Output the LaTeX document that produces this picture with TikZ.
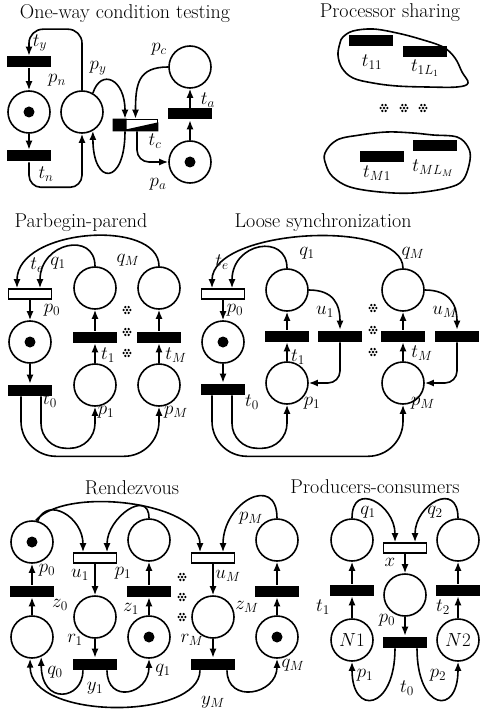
\RequirePackage{fix-cm}
\documentclass[tikz,border=0pt]{standalone}
\usepackage{amsmath}
\usetikzlibrary{arrows.meta}

\begin{document}
\begin{tikzpicture}[x=1pt, y=1pt, line width=1.6pt,
    font=\fontsize{19}{21}\selectfont,
    place/.style={circle, draw, minimum size=42pt, inner sep=0pt},
    marked/.style={path picture={\fill (path picture bounding box.center) circle (5.5pt);}},
    trans/.style={rectangle, fill=black, minimum width=44pt, minimum height=11pt, inner sep=0pt},
    etrans/.style={rectangle, draw, fill=white, minimum width=43pt, minimum height=10pt, inner sep=0pt},
    flow/.style={-{Latex[length=9pt,width=7pt]}},
    title/.style={font=\fontsize{20}{22}\selectfont},
    sepdot/.pic={\fill (0,0) circle (1.3pt);
      \foreach \a in {0,60,...,300} \fill (\a:3.4pt) circle (1.3pt);}]
  \useasboundingbox (0,0) rectangle (479,-711);

  % one-way condition testing
  \node[title] (h1) at (125,-14) {One-way condition testing};
  \node[trans] (ty) at (29,-62) {};
  \node[place, marked] (pn) at (29,-112) {};
  \node[trans] (tn) at (29,-156) {};
  \node[place] (py) at (82,-112) {};
  \node[place] (pc) at (190,-67) {};
  \node[trans] (ta) at (190,-114) {};
  \node[place, marked] (pa) at (190,-162) {};
  \node[rectangle, draw, minimum width=44pt, minimum height=11pt, inner sep=0pt] (tc) at (135.5,-125) {};
  \fill (tc.north west) -- ([xshift=14pt]tc.north west) -- ([xshift=14pt,yshift=2pt]tc.south west)
    -- ([yshift=9pt]tc.south east) -- (tc.south east) -- (tc.south west) -- cycle;
  \draw[flow, rounded corners=14pt] (py.north) -- ++(0,61) -| (ty.north);
  \draw[flow] (ty) -- (pn);
  \draw[flow] (pn) -- (tn);
  \draw[flow, rounded corners=12pt] (tn.south) -- ++(0,-25) -| (py.south);
  \draw[flow] (py.60) .. controls +(8,25) and +(0,40) .. ([xshift=-10.5pt]tc.north);
  \draw[flow] (pc.west) .. controls +(-30,0) and +(0,35) .. (tc.north);
  \draw[flow] ([xshift=-10.5pt]tc.south) .. controls +(0,-55) and +(0,-55) .. (py.-60);
  \draw[flow, rounded corners=12pt] ([xshift=1.5pt]tc.south) |- (pa.west);
  \draw[flow] (pa) -- (ta);
  \draw[flow] (ta) -- (pc);
  \node (lty) at (40,-43) {$t_y$};
  \node (lpn) at (57,-80) {$p_n$};
  \node (lpy) at (98,-68) {$p_y$};
  \node (lpc) at (159,-49) {$p_c$};
  \node (lta) at (208,-100) {$t_a$};
  \node (ltc) at (155,-141) {$t_c$};
  \node (ltn) at (46,-174) {$t_n$};
  \node (lpa) at (158,-184) {$p_a$};

  % processor sharing
  \node[title] (h2) at (390,-13) {Processor sharing};
  \draw plot[smooth cycle, tension=0.6] coordinates {(343,-37) (353,-31) (373,-29) (397,-33)
    (420,-39) (443,-47) (455,-58) (462,-72) (468,-83) (457,-87) (427,-87) (397,-86)
    (373,-83) (353,-78) (342,-68) (338,-55) (340,-43)};
  \draw plot[smooth cycle, tension=0.6] coordinates {(325,-153) (337,-140) (360,-135) (387,-132)
    (413,-133) (433,-135) (457,-137) (468,-147) (470,-160) (463,-180) (447,-188) (413,-193)
    (380,-192) (350,-187) (333,-177) (326,-165)};
  \node[trans] (t11) at (371,-41) {};
  \node[trans] (t1L1) at (425,-52) {};
  \node[trans] (tM1) at (382,-157) {};
  \node[trans] (tMLM) at (435,-146) {};
  \node (lt11) at (372,-62) {$t_{11}$};
  \node (lt1L1) at (425,-68) {$t_{1L_1}$};
  \node (ltM1) at (377,-173) {$t_{M1}$};
  \node (ltMLM) at (433,-168) {$t_{ML_M}$};
  \foreach \x in {384,404,423} \pic at (\x,-108) {sepdot};

  % parbegin-parend
  \node[title] (h3) at (81,-223) {Parbegin-parend};
  \node[etrans] (bte) at (30,-294) {};
  \node[place, marked] (bp0) at (30,-342) {};
  \node[trans] (bt0) at (30,-390) {};
  \node[place] (bq1) at (95,-288) {};
  \node[trans] (bt1) at (95,-337) {};
  \node[place] (bp1) at (95,-385) {};
  \node[place] (bqM) at (159,-288) {};
  \node[trans] (btM) at (159,-337) {};
  \node[place] (bpM) at (159,-385) {};
  \draw[flow] (bq1.north) .. controls +(0,35) and +(0,46) .. ([xshift=10pt]bte.north);
  \draw[flow] (bqM.north) .. controls +(0,48) and +(0,60) .. ([xshift=-13pt]bte.north);
  \draw[flow] (bte) -- (bp0);
  \draw[flow] (bp0) -- (bt0);
  \draw[flow] (bp1) -- (bt1);
  \draw[flow] (bt1) -- (bq1);
  \draw[flow] (bpM) -- (btM);
  \draw[flow] (btM) -- (bqM);
  \draw[flow, rounded corners=25pt] ([xshift=11pt]bt0.south) -- ++(0,-52) -| (bp1.south);
  \draw[flow, rounded corners=35pt] ([xshift=-9pt]bt0.south) -- ++(0,-60) -| (bpM.south);
  \node (lbte) at (37,-265) {$t_e$};
  \node (lbq1) at (58,-263) {$q_1$};
  \node (lbqM) at (128,-260) {$q_M$};
  \node (lbp0) at (52,-310) {$p_0$};
  \node (lbt1) at (108,-355) {$t_1$};
  \node (lbtM) at (176,-355) {$t_M$};
  \node (lbt0) at (50,-400) {$t_0$};
  \node (lbp1) at (106,-412) {$p_1$};
  \node (lbpM) at (176,-412) {$p_M$};
  \foreach \y in {-310,-332,-353} \pic at (127,\y) {sepdot};

  % loose synchronization
  \node[title] (h4) at (323,-223) {Loose synchronization};
  \node[etrans] (lte) at (223,-294) {};
  \node[place, marked] (lp0) at (223,-342) {};
  \node[trans] (lt0) at (223,-389) {};
  \node[place] (lq1) at (287,-290) {};
  \node[trans] (lt1) at (287,-336) {};
  \node[place] (lp1) at (287,-383) {};
  \node[trans] (lu1) at (340,-336) {};
  \node[place] (lqM) at (403,-290) {};
  \node[trans] (ltM) at (403,-336) {};
  \node[place] (lpM) at (403,-383) {};
  \node[trans] (luM) at (457,-336) {};
  \draw[flow] (lq1.north) .. controls +(0,35) and +(0,46) .. ([xshift=9pt]lte.north);
  \draw[flow] (lqM.north) .. controls +(0,50) and +(0,60) .. ([xshift=-11pt]lte.north);
  \draw[flow] (lq1.east) .. controls +(25,0) and +(0,25) .. (lu1.north);
  \draw[flow, rounded corners=12pt] (lu1.south) |- (lp1.east);
  \draw[flow] (lqM.east) .. controls +(25,0) and +(0,25) .. (luM.north);
  \draw[flow, rounded corners=12pt] (luM.south) |- (lpM.east);
  \draw[flow] (lte) -- (lp0);
  \draw[flow] (lp0) -- (lt0);
  \draw[flow] (lp1) -- (lt1);
  \draw[flow] (lt1) -- (lq1);
  \draw[flow] (lpM) -- (ltM);
  \draw[flow] (ltM) -- (lqM);
  \draw[flow, rounded corners=25pt] ([xshift=9pt]lt0.south) -- ++(0,-53) -| (lp1.south);
  \draw[flow, rounded corners=35pt] ([xshift=-11pt]lt0.south) -- ++(0,-61) -| (lpM.south);
  \node (llte) at (222,-262) {$t_e$};
  \node (llq1) at (307,-253) {$q_1$};
  \node (llqM) at (413,-253) {$q_M$};
  \node (llp0) at (235,-310) {$p_0$};
  \node (llu1) at (325,-312) {$u_1$};
  \node (lluM) at (445,-312) {$u_M$};
  \node (llt1) at (298,-357) {$t_1$};
  \node (lltM) at (422,-353) {$t_M$};
  \node (llt0) at (252,-402) {$t_0$};
  \node (llp1) at (312,-403) {$p_1$};
  \node (llpM) at (423,-403) {$p_M$};
  \foreach \y in {-308,-330,-352} \pic at (373,\y) {sepdot};

  % rendezvous
  \node[title] (h5) at (132,-488) {Rendezvous};
  \node[place, marked] (rp0) at (32,-542) {};
  \node[trans] (rz0) at (32,-591) {};
  \node[place] (rq0) at (32,-637) {};
  \node[etrans] (ru1) at (95,-558) {};
  \node[place] (rr1) at (95,-617) {};
  \node[trans] (ry1) at (95,-664) {};
  \node[place] (rp1) at (149,-540) {};
  \node[trans] (rz1) at (149,-591) {};
  \node[place, marked] (rq1) at (149,-637) {};
  \node[etrans] (ruM) at (213,-558) {};
  \node[place] (rrM) at (213,-617) {};
  \node[trans] (ryM) at (213,-664) {};
  \node[place] (rpM) at (277,-540) {};
  \node[trans] (rzM) at (277,-591) {};
  \node[place, marked] (rqM) at (277,-637) {};
  \draw[flow] (rp0.75) .. controls +(10,25) and +(0,35) .. ([xshift=-12pt]ru1.north);
  \draw[flow] (rp0.80) .. controls +(30,35) and +(0,50) .. ([xshift=-13pt]ruM.north);
  \draw[flow] (rp1.north) .. controls +(0,30) and +(0,35) .. ([xshift=12pt]ru1.north);
  \draw[flow] (rpM.north) .. controls +(0,45) and +(0,50) .. ([xshift=10pt]ruM.north);
  \draw[flow] (ru1) -- (rr1);
  \draw[flow] (rr1) -- (ry1);
  \draw[flow] (ruM) -- (rrM);
  \draw[flow] (rrM) -- (ryM);
  \draw[flow] (rq0) -- (rz0);
  \draw[flow] (rz0) -- (rp0);
  \draw[flow] (rq1) -- (rz1);
  \draw[flow] (rz1) -- (rp1);
  \draw[flow] (rqM) -- (rzM);
  \draw[flow] (rzM) -- (rpM);
  \draw[flow] ([xshift=-12pt]ry1.south) .. controls +(0,-30) and +(0,-49) .. (rq0.-65);
  \draw[flow] ([xshift=12pt]ry1.south) .. controls +(0,-34) and +(0,-36) .. (rq1.south);
  \draw[flow] ([xshift=-13pt]ryM.south) .. controls +(0,-50) and +(0,-62) .. (rq0.-95);
  \draw[flow] ([xshift=14pt]ryM.south) .. controls +(0,-34) and +(0,-36) .. (rqM.south);
  \node (lrp0) at (47,-570) {$p_0$};
  \node (lru1) at (80,-575) {$u_1$};
  \node (lrp1) at (123,-573) {$p_1$};
  \node (lruM) at (228,-576) {$u_M$};
  \node (lrpM) at (251,-518) {$p_M$};
  \node (lrz0) at (60,-605) {$z_0$};
  \node (lrz1) at (131,-609) {$z_1$};
  \node (lrzM) at (247,-607) {$z_M$};
  \node (lrr1) at (75,-640) {$r_1$};
  \node (lrrM) at (192,-640) {$r_M$};
  \node (lrq0) at (55,-672) {$q_0$};
  \node (lrq1) at (163,-670) {$q_1$};
  \node (lrqM) at (293,-665) {$q_M$};
  \node (lry1) at (95,-688) {$y_1$};
  \node (lryM) at (213,-702) {$y_M$};
  \foreach \y in {-577,-597,-617} \pic at (182,\y) {sepdot};

  % producers-consumers
  \node[title] (h6) at (375,-487) {Producers-consumers};
  \node[place] (cq1) at (352,-540) {};
  \node[trans] (ct1) at (352,-590) {};
  \node[place] (cN1) at (352,-640) {$N1$};
  \node[etrans] (cx) at (405,-548) {};
  \node[place] (cp0) at (405,-595) {};
  \node[trans] (ct0) at (405,-642) {};
  \node[place] (cq2) at (458,-540) {};
  \node[trans] (ct2) at (458,-590) {};
  \node[place] (cN2) at (458,-640) {$N2$};
  \draw[flow] (cq1.north) .. controls +(0,38) and +(0,38) .. ([xshift=-10pt]cx.north);
  \draw[flow] (cq2.north) .. controls +(0,38) and +(0,38) .. ([xshift=10pt]cx.north);
  \draw[flow] (cx) -- (cp0);
  \draw[flow] (cp0) -- (ct0);
  \draw[flow] (cN1) -- (ct1);
  \draw[flow] (ct1) -- (cq1);
  \draw[flow] (cN2) -- (ct2);
  \draw[flow] (ct2) -- (cq2);
  \draw[flow] ([xshift=-10pt]ct0.south) .. controls +(0,-62) and +(0,-55) .. (cN1.south);
  \draw[flow] ([xshift=12pt]ct0.south) .. controls +(0,-62) and +(0,-55) .. (cN2.south);
  \node (lcq1) at (368,-512) {$q_1$};
  \node (lcq2) at (435,-512) {$q_2$};
  \node (lcx) at (390,-562) {$x$};
  \node (lct1) at (323,-607) {$t_1$};
  \node (lct2) at (443,-607) {$t_2$};
  \node (lcp0) at (387,-620) {$p_0$};
  \node (lcp1) at (365,-675) {$p_1$};
  \node (lcp2) at (438,-675) {$p_2$};
  \node (lct0) at (407,-688) {$t_0$};
\end{tikzpicture}
\end{document}
